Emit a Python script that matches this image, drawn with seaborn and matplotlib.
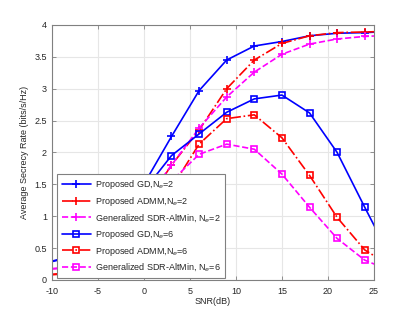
import matplotlib
matplotlib.use("Agg")
import matplotlib.pyplot as plt
import seaborn as sns
import numpy as np

# SNR grid (dB)
snr = [-12, -9, -6, -3, 0, 3, 6, 9, 12, 15, 18, 21, 24, 27]

# average secrecy rate (bits/s/Hz)
gd_ne2 = [0.22, 0.33, 0.55, 0.95, 1.50, 2.25, 2.97, 3.45, 3.67, 3.74, 3.83, 3.87, 3.88, 3.90]
admm_ne2 = [0.06, 0.10, 0.24, 0.55, 1.15, 1.80, 2.35, 3.00, 3.45, 3.71, 3.83, 3.88, 3.89, 3.90]
sdr_ne2 = [0.15, 0.19, 0.32, 0.65, 1.20, 1.80, 2.38, 2.87, 3.26, 3.54, 3.70, 3.78, 3.82, 3.84]
gd_ne6 = [0.22, 0.32, 0.50, 0.85, 1.40, 1.95, 2.29, 2.63, 2.84, 2.90, 2.62, 2.00, 1.14, 0.30]
admm_ne6 = [0.06, 0.09, 0.20, 0.45, 0.95, 1.44, 2.13, 2.53, 2.59, 2.23, 1.64, 0.98, 0.47, 0.20]
sdr_ne6 = [0.15, 0.18, 0.30, 0.55, 1.00, 1.55, 1.97, 2.13, 2.05, 1.66, 1.14, 0.65, 0.31, 0.13]

labels = ["Proposed GD,N$_e$=2", "Proposed ADMM,N$_e$=2",
          "Generalized SDR-AltMin, N$_e$=2",
          "Proposed GD,N$_e$=6", "Proposed ADMM,N$_e$=6",
          "Generalized SDR-AltMin, N$_e$=6"]
series = [gd_ne2, admm_ne2, sdr_ne2, gd_ne6, admm_ne6, sdr_ne6]
colors = ["#0000ff", "#ff0000", "#ff00ff"] * 2
styles = ["-", "-.", "--"] * 2
markers = ["+"] * 3 + ["s"] * 3

sns.set_style("whitegrid", {"grid.color": "#e6e6e6", "axes.edgecolor": "#808080"})
plt.rcParams["font.family"] = ["Liberation Sans", "DejaVu Sans"]
plt.rcParams["axes.unicode_minus"] = False
plt.rcParams["font.size"] = 6.5

fig = plt.figure(figsize=(4.15, 3.12), dpi=100)
ax = fig.add_axes([0.125, 0.103, 0.776, 0.817])

for vals, lab, c, ls, m in zip(series, labels, colors, styles, markers):
    sns.lineplot(x=snr, y=vals, ax=ax, color=c, linestyle=ls, marker=m,
                 markersize=6 if m == "+" else 4.5, markeredgewidth=1.2,
                 markerfacecolor="none", markeredgecolor=c,
                 linewidth=1.2, label=lab)

ax.set_xlim(-10, 25)
ax.set_ylim(0, 4)
ax.set_xticks(range(-10, 26, 5))
ax.set_yticks(np.arange(0, 4.01, 0.5))
ax.set_yticklabels(["0", "0.5", "1", "1.5", "2", "2.5", "3", "3.5", "4"])
ax.set_xlabel("SNR(dB)", fontsize=6.5, color="#262626", labelpad=1)
ax.set_ylabel("Average Secrecy Rate (bits/s/Hz)", fontsize=6.5, color="#262626", labelpad=4)
ax.tick_params(axis="both", direction="in", length=3, width=0.6, color="#808080",
               labelsize=6.5, labelcolor="#262626", top=True, right=True,
               bottom=True, left=True)
ax.tick_params(axis="x", pad=5)
ax.tick_params(axis="y", pad=3.5)
for s in ax.spines.values():
    s.set_linewidth(0.8)
    s.set_color("#808080")

leg = ax.legend(loc="lower left", bbox_to_anchor=(0.016, 0.008), borderaxespad=0,
                fontsize=6.5, frameon=True, fancybox=False, framealpha=1,
                edgecolor="#808080", handlelength=3.3, labelspacing=0.42,
                borderpad=0.5, handletextpad=0.4)
leg.get_frame().set_linewidth(0.8)

fig.savefig("out.png", dpi=100)
